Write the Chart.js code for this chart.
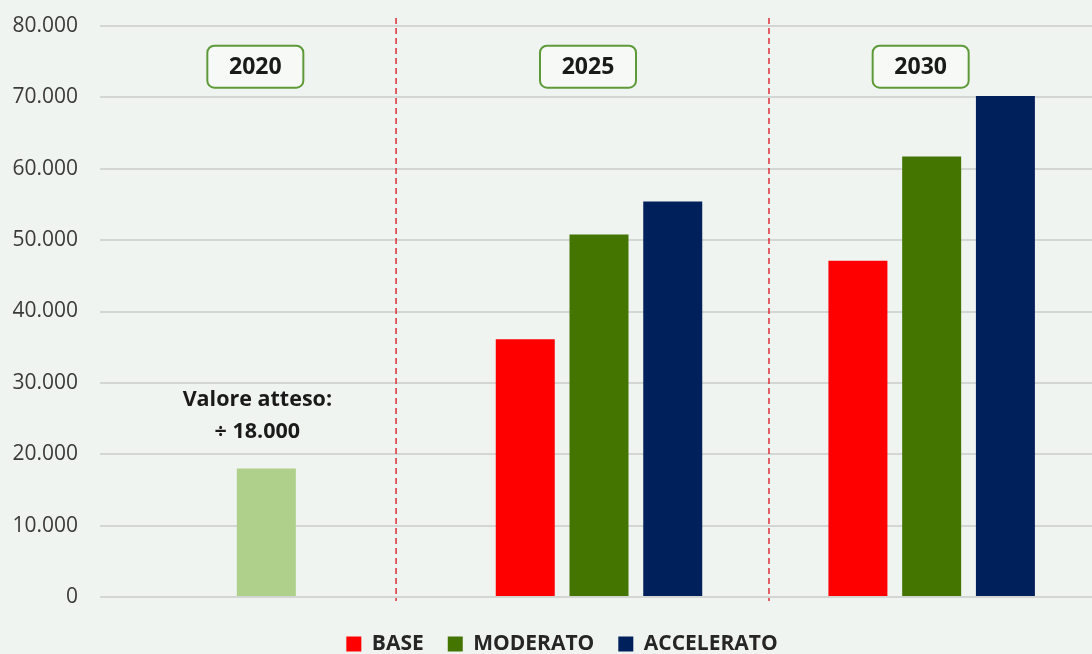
<!DOCTYPE html>
<html>
<head>
<meta charset="utf-8">
<script src="https://cdn.jsdelivr.net/npm/chart.js@4/dist/chart.umd.min.js"></script>
<style>
  html, body { margin: 0; padding: 0; background: #f0f4f1; }
  #wrap { width: 1092px; height: 654px; position: relative; }
</style>
</head>
<body>
<div id="wrap"><canvas id="chart"></canvas></div>
<script>
// --- data ---
const years = ['2020', '2025', '2030'];
const expected2020 = [18000, null, null];
const baseValues = [null, 36100, 47100];
const moderatoValues = [null, 50800, 61700];
const acceleratoValues = [null, 55400, 70200];
const yTicks = [0, 10000, 20000, 30000, 40000, 50000, 60000, 70000, 80000];

// annotations (in data units)
const yearBoxY = 74300;
const dividerAt = [0.39, 1.511];
const noteLines = ['Valore atteso:', '\u00f7 18.000'];
const noteY = [27600, 23200];

const FONT = '"Open Sans", sans-serif';

function fmt(v) {
  return v.toString().replace(/\B(?=(\d{3})+(?!\d))/g, '.');
}

// draws the dashed dividers, year boxes and the 2020 note
const overlayPlugin = {
  id: 'overlay',
  afterLayout(chart) {
    // plot area runs slightly past the right edge of the canvas
    const x = chart.scales.x;
    x.right += 6;
    x.width += 6;
    x.configure();
    // legend sits a little right of the canvas centre
    chart.legend.left += 16;
    chart.legend.right += 16;
  },
  afterDatasetsDraw(chart) {
    const ctx = chart.ctx;
    const x = chart.scales.x, y = chart.scales.y;
    const area = chart.chartArea;
    const step = x.getPixelForValue(1) - x.getPixelForValue(0);
    ctx.save();

    // dashed red dividers
    ctx.strokeStyle = '#dc3038';
    ctx.lineWidth = 1.5;
    ctx.setLineDash([6, 4]);
    dividerAt.forEach(function(d) {
      let px = x.getPixelForValue(0) + d * step;
      ctx.beginPath();
      ctx.moveTo(px, 18);
      ctx.lineTo(px, area.bottom + 4);
      ctx.stroke();
    });
    ctx.setLineDash([]);

    // year boxes
    ctx.font = 'bold 23px ' + FONT;
    ctx.textAlign = 'center';
    ctx.textBaseline = 'middle';
    years.forEach(function(label, i) {
      let cx = x.getPixelForValue(i) - 11;
      let cy = y.getPixelForValue(yearBoxY);
      let w = 96, h = 42;
      ctx.beginPath();
      ctx.roundRect(cx - w / 2, cy - h / 2, w, h, 7);
      ctx.fillStyle = '#f6f9f6';
      ctx.fill();
      ctx.lineWidth = 2;
      ctx.strokeStyle = '#5f9a3a';
      ctx.stroke();
      ctx.fillStyle = '#1a1a1a';
      ctx.fillText(label, cx, cy + 1);
    });

    // note above the 2020 bar
    ctx.font = 'bold 21.5px ' + FONT;
    ctx.fillStyle = '#1a1a1a';
    noteLines.forEach(function(t, i) {
      ctx.fillText(t, x.getPixelForValue(0) - 9, y.getPixelForValue(noteY[i]));
    });
    ctx.restore();
  }
};

const barOpts = { skipNull: true, maxBarThickness: 59, categoryPercentage: 0.665, barPercentage: 0.8, borderWidth: 0 };

new Chart(document.getElementById('chart'), {
  type: 'bar',
  data: {
    labels: years,
    datasets: [
      Object.assign({ label: '2020', data: expected2020, backgroundColor: '#aed08a' }, barOpts),
      Object.assign({ label: 'BASE', data: baseValues, backgroundColor: '#ff0000' }, barOpts),
      Object.assign({ label: 'MODERATO', data: moderatoValues, backgroundColor: '#437500' }, barOpts),
      Object.assign({ label: 'ACCELERATO', data: acceleratoValues, backgroundColor: '#00205c' }, barOpts)
    ]
  },
  options: {
    responsive: true,
    maintainAspectRatio: false,
    animation: false,
    layout: { padding: { top: 26, right: 0, bottom: -10.5, left: 0 } },
    plugins: {
      tooltip: { enabled: false },
      legend: {
        position: 'bottom',
        labels: {
          filter: item => item.text !== '2020',
          boxWidth: 15,
          boxHeight: 15,
          padding: 24,
          color: '#262626',
          font: { family: FONT, size: 21, weight: 'bold' }
        }
      }
    },
    scales: {
      x: {
        afterFit: function(scale) { scale.height = 12.5; },
        grid: { display: false },
        border: { display: false },
        ticks: { display: false }
      },
      y: {
        min: 0,
        max: 80000,
        afterFit: function(scale) { scale.width = 100; },
        afterBuildTicks: function(scale) { scale.ticks = yTicks.map(v => ({ value: v })); },
        border: { display: false },
        grid: { color: '#d3d6d3', lineWidth: 2, drawTicks: true, tickLength: 22, tickColor: 'rgba(0,0,0,0)' },
        ticks: {
          padding: 0,
          color: '#3a3a3a',
          font: { family: FONT, size: 21 },
          callback: v => fmt(v)
        }
      }
    }
  },
  plugins: [overlayPlugin]
});
</script>
</body>
</html>
